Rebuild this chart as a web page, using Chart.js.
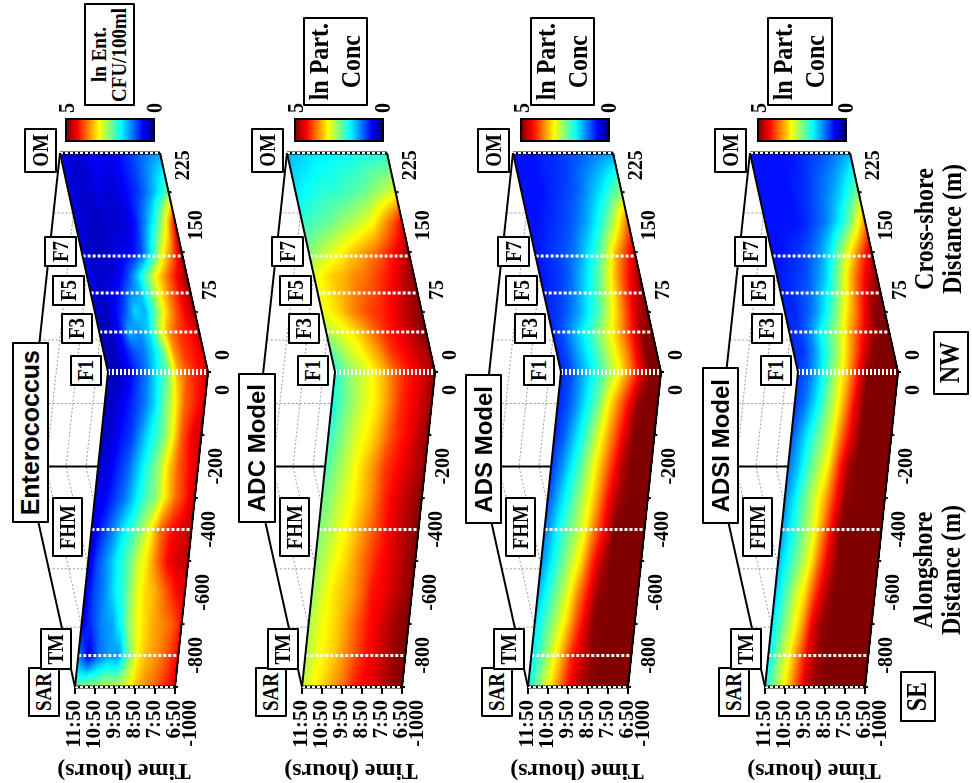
<!DOCTYPE html>
<html>
<head>
<meta charset="utf-8">
<title>Enterococcus and particle model surfaces</title>
<script src="https://cdn.jsdelivr.net/npm/chart.js@4/dist/chart.umd.min.js"></script>
<style>
  body { margin: 0; background: #fff; width: 972px; height: 783px; overflow: hidden; position: relative; }
  canvas { position: absolute; top: 0; }
  .box { position: absolute; box-sizing: border-box; background: #fff; border: 2px solid #000; border-radius: 1px;
         display: flex; align-items: center; justify-content: center; }
  .box span { writing-mode: vertical-rl; white-space: pre; text-align: center; color: #000; }
  .txt { position: absolute; white-space: nowrap; color: #000; }
  .serif { font: bold 19px "Liberation Serif", serif; }
  .sans { font: bold 24px "Liberation Sans", sans-serif; }
</style>
</head>
<body>
<script>
// axis data
const timeTicks = ["11:50", "10:50", "9:50", "8:50", "7:50", "6:50"];
const timeTickHours = [11.833, 10.833, 9.833, 8.833, 7.833, 6.833];
const alongshoreTicks = [-1000, -800, -600, -400, -200, 0];
const crossShoreTicks = [0, 75, 150, 225];

// stations (alongshore ones are negative / cross-shore ones positive)
const stationNames = ["OM", "F7", "F5", "F3", "F1", "FHM", "TM", "SAR"];
const stationDistances = [274, 145, 99, 50, 0, -500, -900, -1000];

// grid the surfaces were read on
const surfaceHours = [11.833, 11.333, 10.833, 10.333, 9.833, 9.333, 8.833, 8.333, 7.833, 7.333, 6.833];
const crossShoreColumns = [274, 225, 188, 150, 120, 75, 50, 25, 0];
const alongshoreColumns = [-100, -200, -300, -400, -500, -600, -700, -800, -900, -1000];

// ln values, one row per distance column (offshore first), left to right = 11:50 to 6:50
const enterococcus = [
  [0.6, 0.4, 0.4, 0.6, 0.6, 0.5, 0.7, 0.9, 1.1, 1.3, 1.4],
  [0.5, 0.4, 0.4, 0.5, 0.4, 0.5, 0.7, 0.9, 1.3, 1.8, 2.4],
  [0.5, 0.4, 0.3, 0.4, 0.4, 0.4, 0.7, 1.3, 2.0, 3.0, 4.4],
  [0.5, 0.3, 0.3, 0.4, 0.5, 0.6, 1.0, 1.9, 3.0, 3.8, 4.9],
  [0.6, 0.4, 0.4, 0.5, 0.9, 1.6, 2.4, 3.2, 3.8, 4.4, 4.9],
  [0.4, 0.3, 0.6, 1.0, 1.7, 1.5, 2.3, 3.2, 3.9, 4.4, 4.8],
  [0.3, 0.3, 0.6, 1.5, 1.3, 1.7, 2.8, 3.7, 4.1, 4.3, 4.7],
  [0.3, 0.3, 0.6, 1.0, 1.2, 1.7, 2.4, 3.6, 4.1, 4.3, 4.5],
  [0.3, 0.3, 0.5, 0.9, 1.3, 1.9, 2.4, 3.5, 4.0, 4.3, 4.5],
  [0.3, 0.4, 0.6, 0.9, 1.2, 1.7, 2.4, 3.1, 3.9, 4.2, 4.6],
  [0.3, 0.4, 0.7, 0.9, 1.4, 1.9, 2.3, 3.0, 3.9, 4.4, 4.7],
  [0.4, 0.5, 0.8, 1.1, 1.6, 2.1, 2.6, 3.3, 3.9, 4.3, 4.6],
  [0.5, 0.6, 0.9, 1.2, 1.7, 2.2, 2.5, 3.2, 3.8, 4.2, 4.7],
  [0.4, 0.8, 1.2, 1.7, 2.1, 2.6, 3.2, 3.9, 4.3, 4.5, 4.7],
  [0.4, 1.0, 1.4, 1.9, 2.3, 2.9, 3.3, 3.9, 4.4, 4.6, 4.7],
  [0.5, 1.0, 1.3, 1.8, 2.2, 2.9, 3.3, 3.5, 3.9, 4.3, 4.5],
  [0.5, 0.9, 1.3, 1.4, 2.0, 2.8, 3.2, 3.5, 3.7, 3.9, 4.3],
  [1.3, 0.5, 1.1, 1.4, 1.3, 2.4, 3.2, 3.5, 3.7, 4.0, 4.4],
  [2.3, 2.6, 2.6, 2.8, 2.8, 2.9, 3.4, 3.7, 3.9, 4.2, 4.5]
];
const adcModel = [
  [1.5, 1.6, 1.7, 1.8, 1.8, 1.9, 1.9, 2.0, 2.0, 2.0, 2.0],
  [1.8, 1.9, 2.0, 2.1, 2.1, 2.2, 2.3, 2.4, 2.6, 2.8, 3.0],
  [2.1, 2.2, 2.3, 2.4, 2.6, 2.7, 2.9, 3.1, 3.5, 3.9, 4.4],
  [2.5, 2.7, 2.9, 3.1, 3.3, 3.5, 3.7, 3.9, 4.2, 4.5, 4.8],
  [3.0, 3.2, 3.4, 3.5, 3.7, 3.8, 4.0, 4.2, 4.4, 4.7, 4.9],
  [3.0, 3.2, 3.4, 3.7, 3.9, 4.1, 4.2, 4.4, 4.6, 4.8, 5.0],
  [2.7, 2.9, 3.1, 3.3, 3.6, 3.9, 4.2, 4.4, 4.6, 4.8, 5.0],
  [2.3, 2.6, 2.9, 3.1, 3.4, 3.7, 4.1, 4.3, 4.5, 4.7, 4.9],
  [2.0, 2.4, 2.7, 2.9, 3.2, 3.5, 3.9, 4.2, 4.4, 4.6, 4.9],
  [1.9, 2.3, 2.6, 2.9, 3.1, 3.4, 3.8, 4.2, 4.4, 4.6, 4.9],
  [2.1, 2.4, 2.7, 3.0, 3.2, 3.5, 3.9, 4.2, 4.4, 4.7, 4.9],
  [2.2, 2.5, 2.8, 3.1, 3.4, 3.7, 4.1, 4.3, 4.5, 4.7, 4.9],
  [2.4, 2.6, 2.9, 3.1, 3.4, 3.7, 4.1, 4.4, 4.6, 4.8, 5.0],
  [2.5, 2.7, 3.0, 3.2, 3.5, 3.8, 4.1, 4.4, 4.6, 4.8, 5.0],
  [2.6, 2.8, 3.1, 3.3, 3.6, 3.9, 4.2, 4.4, 4.6, 4.8, 5.0],
  [2.6, 2.9, 3.2, 3.4, 3.6, 3.9, 4.3, 4.4, 4.6, 4.8, 5.0],
  [2.7, 3.0, 3.2, 3.4, 3.7, 4.0, 4.3, 4.5, 4.7, 4.9, 5.0],
  [2.7, 3.0, 3.2, 3.4, 3.7, 4.0, 4.3, 4.5, 4.7, 4.9, 5.0],
  [2.8, 3.1, 3.3, 3.6, 3.8, 4.2, 4.4, 4.5, 4.7, 4.9, 5.0]
];
const adsModel = [
  [0.7, 0.7, 0.7, 0.8, 0.8, 0.9, 1.0, 1.1, 1.2, 1.3, 1.4],
  [0.7, 0.7, 0.7, 0.8, 0.9, 1.0, 1.2, 1.5, 1.8, 2.2, 2.6],
  [0.7, 0.7, 0.8, 0.9, 1.0, 1.2, 1.5, 1.9, 2.4, 3.1, 3.9],
  [0.7, 0.8, 0.9, 1.0, 1.2, 1.6, 2.0, 2.6, 3.4, 4.0, 4.6],
  [0.7, 0.8, 0.9, 1.1, 1.5, 1.9, 2.4, 3.1, 3.8, 4.4, 4.9],
  [0.8, 0.9, 1.1, 1.4, 1.8, 2.2, 2.8, 3.4, 4.1, 4.7, 5.0],
  [0.8, 1.0, 1.4, 1.8, 2.2, 2.7, 3.2, 3.7, 4.3, 4.9, 5.0],
  [0.8, 1.0, 1.4, 1.8, 2.2, 2.7, 3.2, 3.7, 4.4, 5.0, 5.0],
  [0.8, 1.0, 1.4, 1.8, 2.2, 2.7, 3.2, 3.8, 4.5, 5.0, 5.0],
  [0.8, 1.0, 1.4, 1.9, 2.4, 3.1, 3.7, 4.3, 4.9, 5.0, 5.0],
  [0.8, 1.1, 1.6, 2.1, 2.7, 3.3, 3.9, 4.5, 5.0, 5.0, 5.0],
  [0.9, 1.3, 1.8, 2.3, 2.9, 3.5, 4.1, 4.7, 5.0, 5.0, 5.0],
  [1.0, 1.5, 2.0, 2.5, 3.0, 3.6, 4.3, 4.8, 5.0, 5.0, 5.0],
  [1.2, 1.7, 2.2, 2.6, 3.1, 3.8, 4.4, 5.0, 5.0, 5.0, 5.0],
  [1.3, 1.8, 2.3, 2.8, 3.3, 4.1, 4.7, 5.0, 5.0, 5.0, 5.0],
  [1.5, 2.0, 2.5, 3.0, 3.7, 4.3, 4.9, 5.0, 5.0, 5.0, 5.0],
  [1.7, 2.2, 2.7, 3.2, 3.9, 4.5, 5.0, 5.0, 5.0, 5.0, 5.0],
  [1.8, 2.3, 2.9, 3.5, 4.2, 4.6, 4.9, 5.0, 5.0, 5.0, 5.0],
  [1.9, 2.5, 3.1, 3.7, 4.3, 4.7, 4.9, 5.0, 5.0, 5.0, 5.0]
];
const adsiModel = [
  [0.7, 0.7, 0.7, 0.7, 0.7, 0.8, 0.9, 1.0, 1.1, 1.3, 1.5],
  [0.7, 0.7, 0.7, 0.7, 0.8, 0.9, 1.1, 1.3, 1.6, 2.0, 2.5],
  [0.7, 0.7, 0.7, 0.7, 0.8, 1.0, 1.2, 1.6, 2.1, 2.8, 3.7],
  [0.7, 0.7, 0.8, 0.9, 1.1, 1.4, 1.9, 2.6, 3.3, 4.0, 4.7],
  [0.7, 0.8, 0.9, 1.0, 1.3, 1.7, 2.4, 3.2, 3.9, 4.5, 5.0],
  [0.8, 0.8, 1.0, 1.3, 1.8, 2.4, 3.1, 3.7, 4.4, 5.0, 5.0],
  [0.8, 0.9, 1.2, 1.8, 2.3, 2.8, 3.5, 4.1, 4.7, 5.0, 5.0],
  [0.8, 0.9, 1.3, 1.9, 2.4, 3.1, 3.8, 4.5, 5.0, 5.0, 5.0],
  [0.9, 1.1, 1.6, 2.2, 2.9, 3.5, 4.3, 5.0, 5.0, 5.0, 5.0],
  [0.9, 1.2, 1.7, 2.3, 2.9, 3.6, 4.4, 5.0, 5.0, 5.0, 5.0],
  [1.0, 1.5, 2.0, 2.5, 3.0, 3.8, 4.5, 5.0, 5.0, 5.0, 5.0],
  [1.2, 1.6, 2.2, 2.7, 3.2, 4.1, 4.8, 5.0, 5.0, 5.0, 5.0],
  [1.3, 1.8, 2.4, 2.9, 3.5, 4.2, 4.9, 5.0, 5.0, 5.0, 5.0],
  [1.4, 1.9, 2.4, 2.9, 3.6, 4.4, 5.0, 5.0, 5.0, 5.0, 5.0],
  [1.5, 2.0, 2.5, 3.0, 3.8, 4.5, 5.0, 5.0, 5.0, 5.0, 5.0],
  [1.6, 2.2, 2.8, 3.3, 4.1, 4.7, 5.0, 5.0, 5.0, 5.0, 5.0],
  [1.7, 2.3, 2.9, 3.5, 4.4, 4.9, 5.0, 5.0, 5.0, 5.0, 5.0],
  [1.8, 2.5, 3.1, 3.8, 4.5, 4.9, 5.0, 5.0, 5.0, 5.0, 5.0],
  [1.9, 2.6, 3.2, 3.9, 4.6, 4.9, 5.0, 5.0, 5.0, 5.0, 5.0]
];

const panels = [
  { title: "Enterococcus", unit: "ln Ent.\nCFU/100ml", values: enterococcus, shift: 0, titleBox: [12, 342, 49, 523], unitBox: [84, 3, 135, 106] },
  { title: "ADC Model", unit: "ln Part.\nConc", values: adcModel, shift: 227, titleBox: [238, 373, 276, 523], unitBox: [303, 17, 368, 106] },
  { title: "ADS Model", unit: "ln Part.\nConc", values: adsModel, shift: 453, titleBox: [465, 374, 502, 524], unitBox: [530, 17, 595, 106] },
  { title: "ADSI Model", unit: "ln Part.\nConc", values: adsiModel, shift: 690, titleBox: [702, 367, 739, 524], unitBox: [767, 17, 833, 106] }
];

// station label boxes for the first panel, the others are shifted copies. SAR goes first, TM sits on it
const stationBoxes = {
  SAR: [28, 667, 60, 717], TM: [40, 628, 72, 670], FHM: [52, 497, 83, 557], F1: [70, 355, 102, 386],
  F3: [61, 313, 93, 344], F5: [52, 275, 85, 306], F7: [44, 236, 77, 267], OM: [24, 128, 57, 173]
};
const SERIF = '"Liberation Serif", serif';
const leanShore = 33;     // px the surface leans at the shore corner
const leanOffshore = -15; // px at the offshore end
const textStretch = 1.15; // the reference lettering is wider across than along

function jet(v) {
  const t = Math.min(1, Math.max(0, v / 5));
  const c = (x) => Math.round(255 * Math.min(1, Math.max(0, 1.5 - Math.abs(4 * t - x))));
  return [c(3), c(2), c(1)];
}

// where a value sits in a monotonic list: [index, fraction]
function locate(list, v) {
  const n = list.length;
  const dir = list[n - 1] > list[0] ? 1 : -1;
  for (let i = 0; i < n - 1; i++) {
    if ((list[i + 1] - v) * dir >= 0) {
      return [i, Math.max(0, (v - list[i]) / (list[i + 1] - list[i]))];
    }
  }
  return [n - 2, 1];
}

function leanAt(chart, py) {
  const y = chart.scales.y, y2 = chart.scales.y2;
  if (py < y.getPixelForValue(0)) {
    return leanShore + (leanOffshore - leanShore) * y2.getValueForPixel(py) / 274;
  }
  return leanShore * (1 + y.getValueForPixel(py) / 1000);
}

function distancePixel(chart, d) {
  return d > 0 ? chart.scales.y2.getPixelForValue(d) : chart.scales.y.getPixelForValue(d);
}

function drawWall(chart, ctx) {
  const a = chart.chartArea;
  const apexY = chart.scales.y.getPixelForValue(-300);
  const apexX = a.left - 49;
  const wallX = (py) => py < apexY
    ? a.left + leanOffshore + (apexX - a.left - leanOffshore) * (py - a.top) / (apexY - a.top)
    : apexX + (a.left - apexX) * (py - apexY) / (a.bottom - apexY);

  ctx.save();
  ctx.strokeStyle = "#999";
  ctx.lineWidth = 1;
  ctx.setLineDash([2, 2]);
  [1, 2, 3, 4].forEach((k) => {
    ctx.beginPath();
    ctx.moveTo(wallX(a.top) + 20 * k, a.top);
    ctx.lineTo(apexX + 20 * k, apexY);
    ctx.lineTo(a.left + 20 * k, a.bottom);
    ctx.stroke();
  });
  [199, 40].forEach((c) => {
    const py = chart.scales.y2.getPixelForValue(c);
    ctx.beginPath();
    ctx.moveTo(wallX(py), py);
    ctx.lineTo(a.left + leanAt(chart, py), py);
    ctx.stroke();
  });
  [-100, -625, -810].forEach((d) => {
    const py = chart.scales.y.getPixelForValue(d);
    ctx.beginPath();
    ctx.moveTo(wallX(py), py);
    ctx.lineTo(a.left + leanAt(chart, py), py);
    ctx.stroke();
  });
  ctx.setLineDash([]);
  ctx.strokeStyle = "#000";
  ctx.lineWidth = 2;
  ctx.beginPath();
  ctx.moveTo(wallX(a.top), a.top);
  ctx.lineTo(apexX, apexY);
  ctx.lineTo(a.left, a.bottom);
  ctx.moveTo(apexX, apexY);
  ctx.lineTo(a.left + leanAt(chart, apexY), apexY);
  ctx.stroke();
  ctx.restore();
}

function drawSurface(chart, ctx) {
  const a = chart.chartArea;
  const xs = chart.scales.x;
  const nT = surfaceHours.length;
  const cross = chart.data.datasets[0].data;
  const along = chart.data.datasets[1].data;
  const points = cross.concat(along);
  const rows = points.length / nT;
  const colPx = [];
  for (let j = 0; j < rows; j++) colPx.push(distancePixel(chart, points[j * nT].y));

  const w = chart.width, h = chart.height;
  const off = document.createElement("canvas");
  off.width = w;
  off.height = h;
  const octx = off.getContext("2d");
  const img = octx.createImageData(w, h);
  const top = Math.round(a.top), bottom = Math.round(a.bottom);
  for (let py = top; py <= bottom; py++) {
    const lean = leanAt(chart, py + 0.5);
    const [j, fy] = locate(colPx, py + 0.5);
    const x0 = Math.round(a.left + lean), x1 = Math.round(a.right + lean);
    for (let px = x0; px <= x1; px++) {
      const [i, fx] = locate(surfaceHours, xs.getValueForPixel(px + 0.5 - lean));
      const v00 = points[j * nT + i].v, v01 = points[j * nT + i + 1].v;
      const v10 = points[(j + 1) * nT + i].v, v11 = points[(j + 1) * nT + i + 1].v;
      const v = (v00 * (1 - fx) + v01 * fx) * (1 - fy) + (v10 * (1 - fx) + v11 * fx) * fy;
      const rgb = jet(v);
      const k = (py * w + px) * 4;
      img.data[k] = rgb[0];
      img.data[k + 1] = rgb[1];
      img.data[k + 2] = rgb[2];
      img.data[k + 3] = 255;
    }
  }
  octx.putImageData(img, 0, 0);
  ctx.drawImage(off, 0, 0);

  // station lines
  ctx.save();
  stationDistances.forEach((d, idx) => {
    const py = distancePixel(chart, d);
    const lean = leanAt(chart, py);
    const name = stationNames[idx];
    const edge = name === "OM" || name === "SAR";
    if (edge) {
      ctx.strokeStyle = "#000";
      ctx.lineWidth = 3;
      ctx.setLineDash([]);
      ctx.beginPath();
      ctx.moveTo(a.left + lean, py);
      ctx.lineTo(a.right + lean, py);
      ctx.stroke();
    }
    ctx.strokeStyle = "#fff";
    ctx.lineWidth = name === "F1" ? 6 : (edge ? 2 : 3);
    ctx.setLineDash(name === "F1" ? [2, 2] : [3, 2]);
    ctx.beginPath();
    ctx.moveTo(a.left + lean, py);
    ctx.lineTo(a.right + lean, py);
    ctx.stroke();
  });
  ctx.setLineDash([]);

  // edges of the fold
  const shoreY = chart.scales.y.getPixelForValue(0);
  ctx.strokeStyle = "#000";
  ctx.lineWidth = 2;
  [a.left, a.right].forEach((x) => {
    ctx.beginPath();
    ctx.moveTo(x + leanAt(chart, a.top), a.top);
    ctx.lineTo(x + leanShore, shoreY);
    ctx.lineTo(x, a.bottom);
    ctx.stroke();
  });
  ctx.restore();
}

function drawDistanceTicks(chart, ctx) {
  const a = chart.chartArea;
  ctx.save();
  ctx.fillStyle = "#000";
  ctx.strokeStyle = "#000";
  ctx.lineWidth = 2;
  ctx.font = "bold 20px " + SERIF;
  ctx.textBaseline = "middle";
  const put = (value, py, align, dy) => {
    const x = a.right + leanAt(chart, py);
    ctx.beginPath();
    ctx.moveTo(x, py);
    ctx.lineTo(x + 3, py);
    ctx.stroke();
    ctx.save();
    ctx.translate(x + 15, py + dy);
    ctx.scale(1.1, 1);
    ctx.rotate(-Math.PI / 2);
    ctx.textAlign = align;
    ctx.fillText(String(value), 0, 0);
    ctx.restore();
  };
  alongshoreTicks.forEach((d) => put(d, chart.scales.y.getPixelForValue(d), "right", 13));
  crossShoreTicks.forEach((c) => put(c, chart.scales.y2.getPixelForValue(c), "left", -12));
  ctx.restore();
}

function drawColorBar(ctx, left) {
  const width = 88, top = 119, height = 22;
  for (let i = 0; i < width; i++) {
    const c = jet(5 * (1 - i / (width - 1)));
    ctx.fillStyle = "rgb(" + c.join(",") + ")";
    ctx.fillRect(left + i, top, 1, height);
  }
  ctx.strokeStyle = "#000";
  ctx.lineWidth = 2;
  ctx.strokeRect(left, top, width, height);
}

const surfacePlugin = {
  id: "surface",
  beforeDatasetsDraw(chart) {
    const ctx = chart.ctx;
    drawWall(chart, ctx);
    drawSurface(chart, ctx);
    drawColorBar(ctx, chart.chartArea.left - 9 + (chart.options.plugins.surface.barNudge || 0));
  },
  afterDraw(chart) {
    drawDistanceTicks(chart, chart.ctx);
  }
};

function addBox(rect, text, cls, size, stretch, lineHeight) {
  const d = document.createElement("div");
  d.className = "box " + cls;
  d.style.left = rect[0] + "px";
  d.style.top = rect[1] + "px";
  d.style.width = rect[2] - rect[0] + "px";
  d.style.height = rect[3] - rect[1] + "px";
  if (size) d.style.fontSize = size + "px";
  const s = document.createElement("span");
  s.textContent = text;
  s.style.lineHeight = lineHeight || "1.15";
  s.style.transform = "scaleX(" + (stretch || 1) + ") rotate(180deg)";
  d.appendChild(s);
  document.body.appendChild(d);
}

function addText(x, y, text, size, angle, stretch) {
  const d = document.createElement("div");
  d.className = "txt serif";
  d.style.left = x + "px";
  d.style.top = y + "px";
  d.style.fontSize = size + "px";
  d.style.transform = "translate(-50%,-50%) scaleX(" + (stretch || 1) + ") rotate(" + angle + "deg)";
  d.textContent = text;
  document.body.appendChild(d);
}

function buildPoints(columns, rows) {
  const pts = [];
  columns.forEach((d, j) => {
    surfaceHours.forEach((h, i) => pts.push({ x: h, y: d, v: rows[j][i] }));
  });
  return pts;
}

panels.forEach((panel) => {
  const canvas = document.createElement("canvas");
  canvas.width = 243;
  canvas.height = 783;
  canvas.style.left = panel.shift + "px";
  document.body.appendChild(canvas);

  const nCross = crossShoreColumns.length;
  new Chart(canvas, {
    type: "scatter",
    data: {
      datasets: [
        { label: panel.title + " cross-shore", yAxisID: "y2", pointRadius: 0, data: buildPoints(crossShoreColumns, panel.values.slice(0, nCross)) },
        { label: panel.title + " alongshore", yAxisID: "y", pointRadius: 0, data: buildPoints(alongshoreColumns, panel.values.slice(nCross)) }
      ]
    },
    options: {
      responsive: false,
      animation: false,
      events: [],
      layout: { padding: { left: 75, right: 68, top: 153, bottom: 0 } },
      plugins: { legend: { display: false }, tooltip: { enabled: false }, surface: { barNudge: panel.shift ? 2 : 0 } },
      scales: {
        x: {
          type: "linear",
          reverse: true,
          min: 6.833,
          max: 11.833,
          border: { display: false },
          grid: { drawOnChartArea: false, drawTicks: true, tickLength: 7, color: "#000", lineWidth: 2 },
          afterFit(scale) { scale.height = 96; },
          afterBuildTicks(scale) { scale.ticks = timeTickHours.map((value) => ({ value })); },
          ticks: {
            autoSkip: false,
            minRotation: 90,
            maxRotation: 90,
            padding: 6,
            color: "#000",
            font: { family: "Liberation Serif", weight: "bold", size: 21 },
            callback(v) { return timeTicks[timeTickHours.indexOf(v)]; }
          }
        },
        y: { display: false, min: -1000, max: 695 },
        y2: { display: false, min: -394, max: 274 }
      }
    },
    plugins: [surfacePlugin]
  });
});

// boxes and titles sit above the canvases
panels.forEach((panel) => {
  ["SAR", "TM", "FHM", "F1", "F3", "F5", "F7", "OM"].forEach((name) => {
    const r = stationBoxes[name];
    addBox([r[0] + panel.shift, r[1], r[2] + panel.shift, r[3]], name, "serif", 19, 1.2);
  });
  addBox(panel.titleBox, panel.title, "sans", panel.shift ? 24 : 25);
  if (panel.shift) addBox(panel.unitBox, panel.unit, "serif", 24, textStretch);
  else addBox(panel.unitBox, panel.unit, "serif", 19, textStretch, "0.96");
  const nudge = panel.shift ? 2 : 0;
  addText(67 + panel.shift + nudge, 108, "5", 20, -90, textStretch);
  addText(154 + panel.shift + nudge, 108, "0", 20, -90, textStretch);
  addText(124 + panel.shift, 771, "Time (hours)", 24, 180);
});

addText(924, 229, "Cross-shore", 24, -90, textStretch);
addText(952, 229, "Distance (m)", 24, -90, textStretch);
addText(923, 570, "Alongshore", 24, -90, textStretch);
addText(951, 570, "Distance (m)", 24, -90, textStretch);
addBox([933, 331, 969, 395], "NW", "serif", 24, 1.2);
addBox([900, 671, 936, 722], "SE", "serif", 24, 1.2);
</script>
</body>
</html>
